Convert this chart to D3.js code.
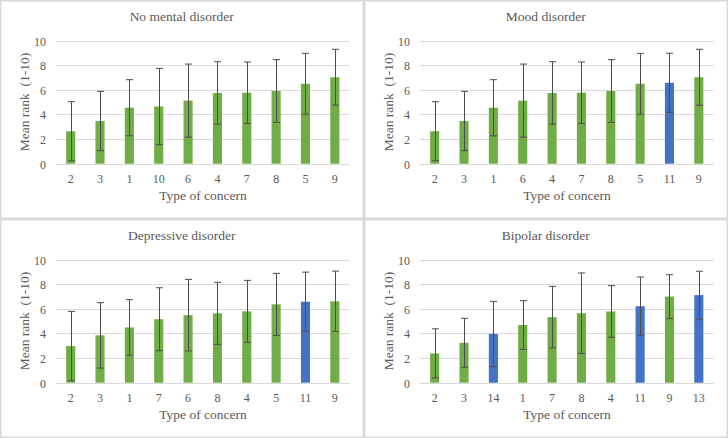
<!DOCTYPE html>
<html>
<head>
<meta charset="utf-8">
<script src="https://cdn.jsdelivr.net/npm/d3@7"></script>
<style>
  html, body { margin: 0; padding: 0; background: #fff; }
  svg { display: block; }
</style>
</head>
<body>
<svg id="chart" width="728" height="438"></svg>
<script>
// ---- Data ----
const panelTitles = ["No mental disorder", "Mood disorder", "Depressive disorder", "Bipolar disorder"];

const catsNone = ["2", "3", "1", "10", "6", "4", "7", "8", "5", "9"];
const meansNone = [2.64, 3.47, 4.55, 4.65, 5.13, 5.75, 5.77, 5.91, 6.50, 7.03];
const sdsNone   = [2.40, 2.41, 2.28, 3.10, 2.97, 2.54, 2.50, 2.55, 2.47, 2.27];

const catsMood = ["2", "3", "1", "6", "4", "7", "8", "5", "11", "9"];
const meansMood = [2.64, 3.47, 4.55, 5.13, 5.75, 5.77, 5.91, 6.50, 6.58, 7.03];
const sdsMood   = [2.40, 2.41, 2.28, 2.97, 2.54, 2.50, 2.55, 2.47, 2.40, 2.27];

const catsDep = ["2", "3", "1", "7", "6", "8", "4", "5", "11", "9"];
const meansDep = [2.98, 3.85, 4.49, 5.16, 5.49, 5.64, 5.80, 6.37, 6.58, 6.62];
const sdsDep   = [2.82, 2.66, 2.26, 2.56, 2.91, 2.52, 2.52, 2.52, 2.41, 2.45];

const catsBip = ["2", "3", "14", "1", "7", "8", "4", "11", "9", "13"];
const meansBip = [2.38, 3.24, 3.96, 4.69, 5.33, 5.65, 5.79, 6.22, 7.00, 7.12];
const sdsBip   = [2.00, 1.99, 2.65, 1.98, 2.50, 3.27, 2.10, 2.37, 1.78, 1.94];

const highlightCats = ["11", "13", "14"];
const yTicks = [0, 2, 4, 6, 8, 10];
const xAxisTitle = "Type of concern";
const yAxisTitle = "Mean rank\u00a0 (1-10)";

// ---- Styling ----
const GREEN = "#70ad47", BLUE = "#4472c4", GRID = "#d9d9d9", TEXT = "#595959", ERR = "#4d4d4d";
const FONT = "'Liberation Serif', 'Times New Roman', serif";

const panels = [
  { title: panelTitles[0], cats: catsNone, means: meansNone, sds: sdsNone, ox: 0,   oy: 0 },
  { title: panelTitles[1], cats: catsMood, means: meansMood, sds: sdsMood, ox: 364, oy: 0 },
  { title: panelTitles[2], cats: catsDep,  means: meansDep,  sds: sdsDep,  ox: 0,   oy: 219 },
  { title: panelTitles[3], cats: catsBip,  means: meansBip,  sds: sdsBip,  ox: 364, oy: 219 }
];

const svg = d3.select("#chart");
const PW = 363, PH = 218;
const plot = { left: 56, right: 349.5, top: 40.7, bottom: 163.7 };

panels.forEach(p => {
  const g = svg.append("g").attr("transform", `translate(${p.ox},${p.oy})`);

  g.append("rect")
    .attr("x", 0.75).attr("y", 0.75)
    .attr("width", PW - 0.5).attr("height", PH - 0.5)
    .attr("fill", "#fff").attr("stroke", GRID).attr("stroke-width", 1.5);

  const x = d3.scaleBand().domain(p.cats).range([plot.left, plot.right]).paddingInner(0.69).paddingOuter(0.345);
  const y = d3.scaleLinear().domain([0, 10]).range([plot.bottom, plot.top]);

  // gridlines
  g.append("g").selectAll("line").data(yTicks).join("line")
    .attr("x1", plot.left).attr("x2", plot.right)
    .attr("y1", d => Math.round(y(d)) + 0.5).attr("y2", d => Math.round(y(d)) + 0.5)
    .attr("stroke", GRID).attr("stroke-width", 1);

  // y axis labels
  const yAxis = d3.axisLeft(y).tickValues(yTicks).tickSize(0).tickPadding(0);
  const ya = g.append("g").attr("transform", `translate(46,0)`).call(yAxis);
  ya.select(".domain").remove();
  ya.selectAll("text").attr("font-family", FONT).attr("font-size", 12).attr("fill", TEXT).attr("dy", "0.36em");

  // x axis labels
  const xAxis = d3.axisBottom(x).tickSize(0).tickPadding(0);
  const xa = g.append("g").attr("transform", `translate(0,${plot.bottom + 10})`).call(xAxis);
  xa.select(".domain").remove();
  xa.selectAll("text").attr("font-family", FONT).attr("font-size", 12).attr("fill", TEXT).attr("dy", "0.76em");

  const data = p.cats.map((c, i) => ({ c, m: p.means[i], s: p.sds[i] }));

  // bars
  g.append("g").selectAll("rect").data(data).join("rect")
    .attr("x", d => x(d.c)).attr("width", x.bandwidth())
    .attr("y", d => y(d.m)).attr("height", d => y(0) - y(d.m))
    .attr("fill", d => highlightCats.includes(d.c) ? BLUE : GREEN);

  // error bars
  const eb = g.append("g").attr("stroke", ERR).attr("stroke-width", 1).attr("fill", "none");
  const cx = d => Math.round(x(d.c) + x.bandwidth() / 2) + 0.5;
  eb.selectAll("line.v").data(data).join("line").attr("class", "v")
    .attr("x1", cx).attr("x2", cx)
    .attr("y1", d => y(d.m + d.s)).attr("y2", d => y(d.m - d.s));
  eb.selectAll("line.t").data(data).join("line").attr("class", "t")
    .attr("x1", d => cx(d) - 3.5).attr("x2", d => cx(d) + 3.5)
    .attr("y1", d => y(d.m + d.s)).attr("y2", d => y(d.m + d.s));
  eb.selectAll("line.b").data(data).join("line").attr("class", "b")
    .attr("x1", d => cx(d) - 3.5).attr("x2", d => cx(d) + 3.5)
    .attr("y1", d => y(d.m - d.s)).attr("y2", d => y(d.m - d.s));

  // title
  g.append("text").attr("x", (plot.left + plot.right) / 2 - 21).attr("y", 21)
    .attr("text-anchor", "middle").attr("font-family", FONT).attr("font-size", 13.5)
    .attr("fill", TEXT).text(p.title);

  // x axis title
  g.append("text").attr("x", 203).attr("y", 199.5)
    .attr("text-anchor", "middle").attr("font-family", FONT).attr("font-size", 13.5)
    .attr("fill", TEXT).text(xAxisTitle);

  // y axis title
  g.append("text").attr("transform", `translate(29,102) rotate(-90)`)
    .attr("text-anchor", "middle").attr("font-family", FONT).attr("font-size", 13.5)
    .attr("fill", TEXT).attr("xml:space", "preserve").style("white-space", "pre").text(yAxisTitle);
});
</script>
</body>
</html>
